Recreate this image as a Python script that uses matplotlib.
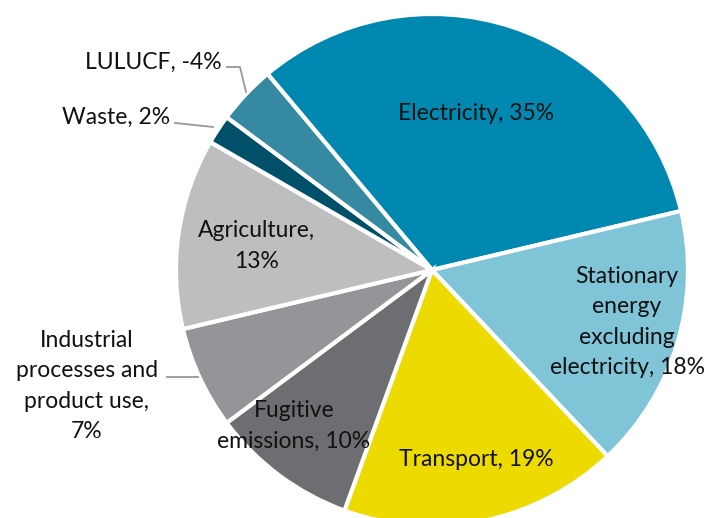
import matplotlib.pyplot as plt

# Emissions shares (LULUCF is a net sink, drawn by magnitude)
categories = ["Electricity", "Stationary energy\nexcluding\nelectricity", "Transport",
              "Fugitive\nemissions", "Industrial\nprocesses and\nproduct use",
              "Agriculture", "Waste", "LULUCF"]
shares = [35, 18, 19, 10, 7, 13, 2, -4]
colors = ["#0088B0", "#80C4D8", "#EDDA00", "#6D6E71", "#939598",
          "#BCBEC0", "#00506A", "#3589A0"]

plt.rcParams["font.family"] = ["Lato", "DejaVu Sans"]

fig = plt.figure(figsize=(7.07, 5.18), dpi=100)
ax = fig.add_axes([0, 0, 1, 1])

cx, cy, r = 432, 518 - 270, 256
ax.pie([abs(v) for v in shares], colors=colors, startangle=130, counterclock=False,
       center=(cx, cy), radius=r, frame=True,
       wedgeprops=dict(edgecolor="white", linewidth=3))
ax.set_xlim(0, 707)
ax.set_ylim(0, 518)
ax.set_aspect("equal")
ax.axis("off")

fs = 16.5
ls = 1.55
def label(x, y, s, ha="center"):
    ax.text(x, 518 - y, s, ha=ha, va="center", fontsize=fs, color="#111111",
            linespacing=ls, multialignment="center")

label(476, 113, f"Electricity, {shares[0]}%")
label(627, 322, f"Stationary\nenergy\nexcluding\nelectricity, {shares[1]}%")
label(476, 460, f"Transport, {shares[2]}%")
label(294, 426, f"Fugitive\nemissions, {shares[3]}%")
label(87, 386, f"Industrial\nprocesses and\nproduct use,\n{shares[4]}%")
label(257, 246, f"Agriculture,\n{shares[5]}%")
label(170, 117, f"Waste, {shares[6]}%", ha="right")
label(222, 62, f"LULUCF, {shares[7]}%", ha="right")

# leader lines
lc = "#999999"
ax.plot([227, 240, 246], [518 - 67, 518 - 67, 518 - 92], color=lc, lw=1.3)
ax.plot([175, 213], [518 - 123, 518 - 127], color=lc, lw=1.3)
ax.plot([167, 198], [518 - 377, 518 - 377], color=lc, lw=1.3)

fig.savefig("out.png", dpi=100)
